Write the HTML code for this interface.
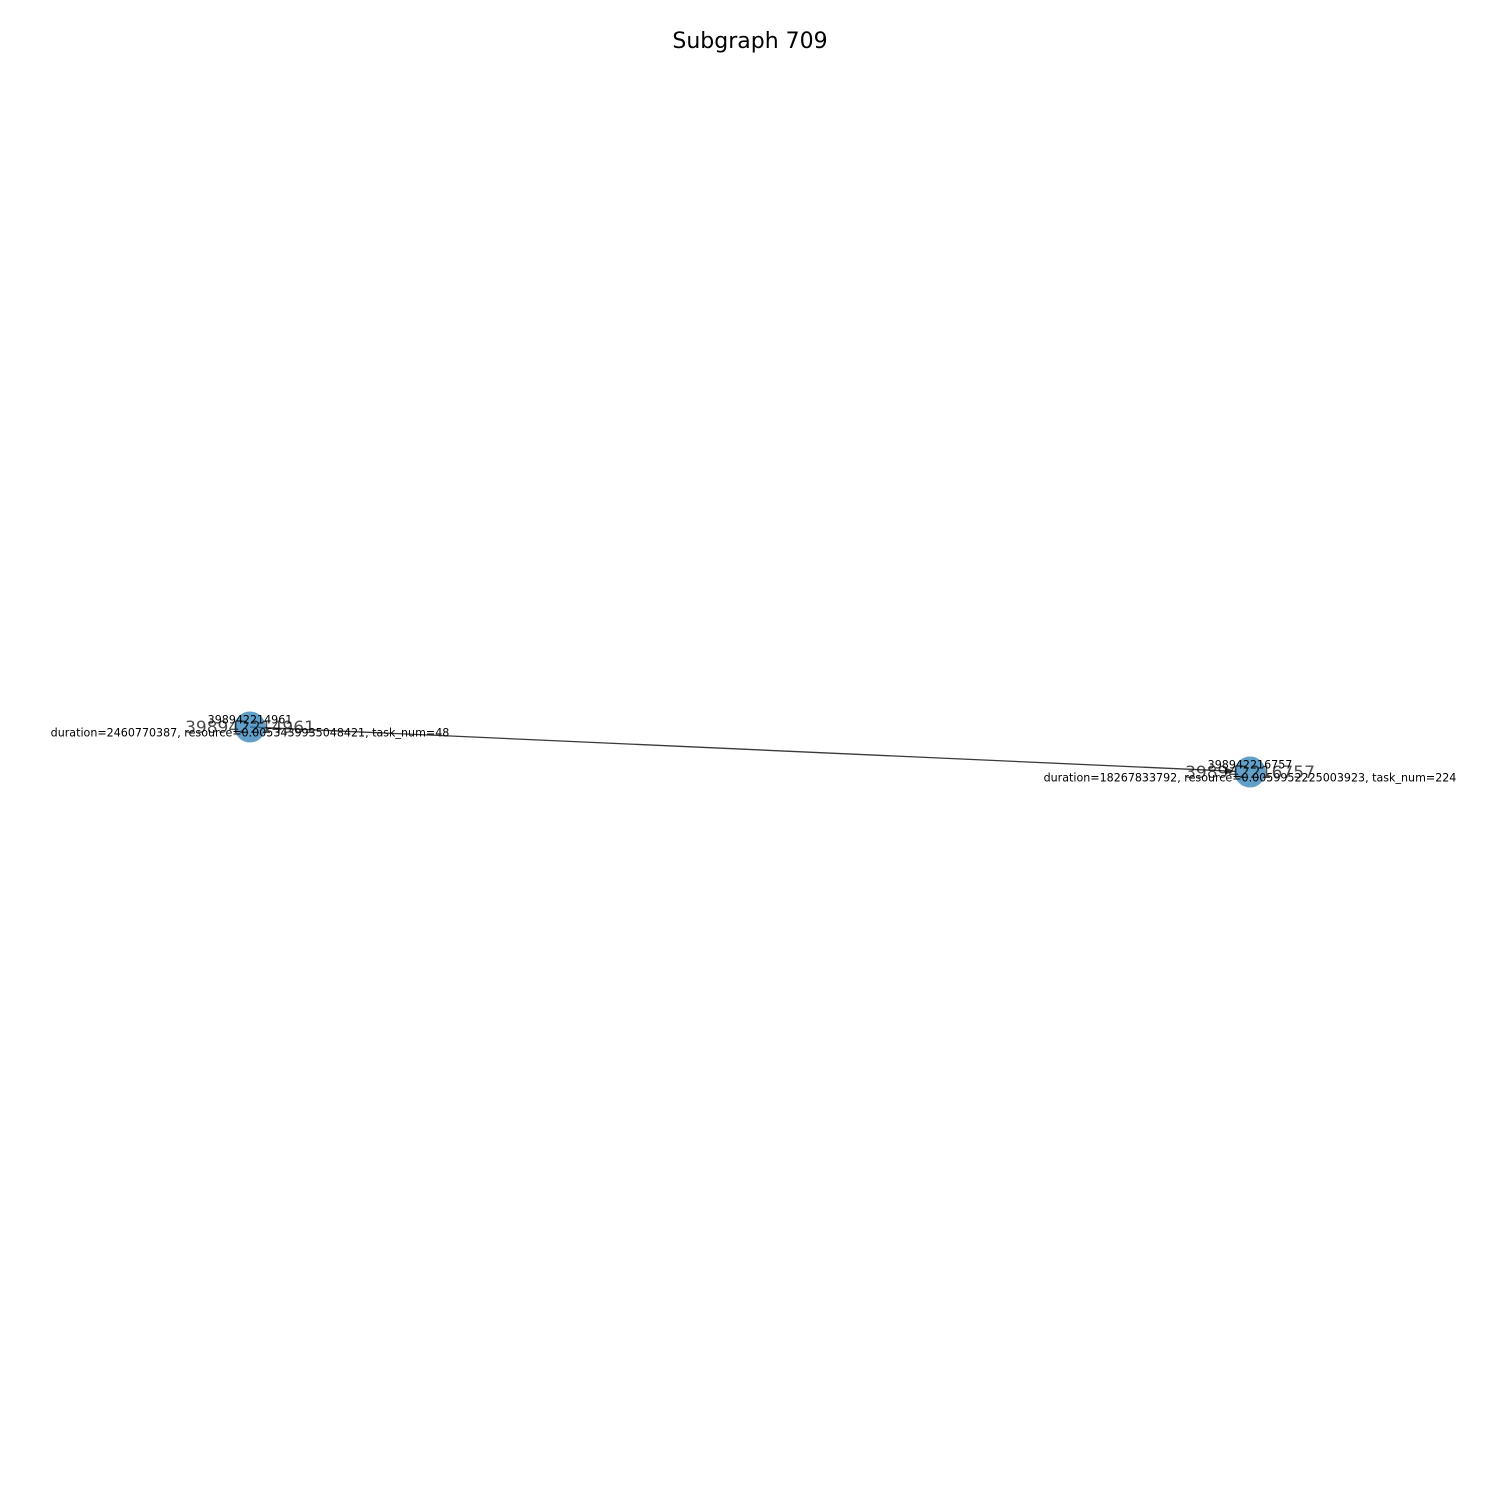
<!DOCTYPE html>
<html><head><meta charset="utf-8"><style>
html,body{margin:0;padding:0;background:#fff;}
svg{display:block;font-family:"DejaVu Sans","Liberation Sans",sans-serif;}
</style></head><body>
<svg id="chart" width="1500" height="1500" viewBox="0 0 1500 1500" xmlns="http://www.w3.org/2000/svg">
<rect width="1500" height="1500" fill="#fff"/>
<text x="750" y="48" font-size="22" text-anchor="middle" fill="#000">Subgraph 709</text>
</svg>
<script>
const nodeIds = ["398942214961", "398942216757"];
const nodeX = [0.0, 1.0];
const nodeY = [0.0, 1.0];
const nodeInfo = ["duration=2460770387, resource=0.0053439935048421, task_num=48",
                  "duration=18267833792, resource=0.0059952225003923, task_num=224"];
const edgeFrom = [0];
const edgeTo = [1];

const svg = document.getElementById('chart');
const NS = 'http://www.w3.org/2000/svg';
const sx = v => 250 + v * 1000;
const sy = v => 727 + v * 45;

edgeFrom.forEach((f, i) => {
  const t = edgeTo[i];
  const x1 = sx(nodeX[f]), y1 = sy(nodeY[f]), x2 = sx(nodeX[t]), y2 = sy(nodeY[t]);
  const dx = x2 - x1, dy = y2 - y1, L = Math.hypot(dx, dy), ux = dx / L, uy = dy / L;
  const ex = x2 - ux * 15, ey = y2 - uy * 15;
  const line = document.createElementNS(NS, 'line');
  
  
  line.setAttribute('x1', x1); line.setAttribute('y1', y1);
  line.setAttribute('x2', ex); line.setAttribute('y2', ey);
  line.setAttribute('stroke', '#3a3a3a'); line.setAttribute('stroke-width', '1.3');
  svg.appendChild(line);
  const ah = document.createElementNS(NS, 'polygon');
  
  
  const bx = ex - ux * 10, by = ey - uy * 10, px = -uy * 3.5, py = ux * 3.5;
  ah.setAttribute('points', `${ex},${ey} ${bx + px},${by + py} ${bx - px},${by - py}`);
  ah.setAttribute('fill', '#333');
  svg.appendChild(ah);
});

nodeIds.forEach((id, i) => {
  const cx = sx(nodeX[i]), cy = sy(nodeY[i]);
  const c = document.createElementNS(NS, 'circle');
  
  
  c.setAttribute('cx', cx); c.setAttribute('cy', cy); c.setAttribute('r', 15.5);
  c.setAttribute('fill', '#1f77b4'); c.setAttribute('fill-opacity', '0.7');
  svg.appendChild(c);
  const big = document.createElementNS(NS, 'text');
  
  
  big.setAttribute('x', cx); big.setAttribute('y', cy + 6);
  big.setAttribute('font-size', '17'); big.setAttribute('text-anchor', 'middle');
  big.setAttribute('fill', '#000'); big.setAttribute('fill-opacity', '0.7');
  big.textContent = id;
  svg.appendChild(big);
  const t1 = document.createElementNS(NS, 'text');
  
  
  t1.setAttribute('x', cx); t1.setAttribute('y', cy - 3.5);
  t1.setAttribute('font-size', '11.1'); t1.setAttribute('text-anchor', 'middle');
  t1.textContent = id;
  svg.appendChild(t1);
  const t2 = document.createElementNS(NS, 'text');
  
  
  t2.setAttribute('x', cx); t2.setAttribute('y', cy + 9.5);
  t2.setAttribute('font-size', '11.1'); t2.setAttribute('text-anchor', 'middle');
  t2.textContent = nodeInfo[i];
  svg.appendChild(t2);
});
</script>
</body></html>
